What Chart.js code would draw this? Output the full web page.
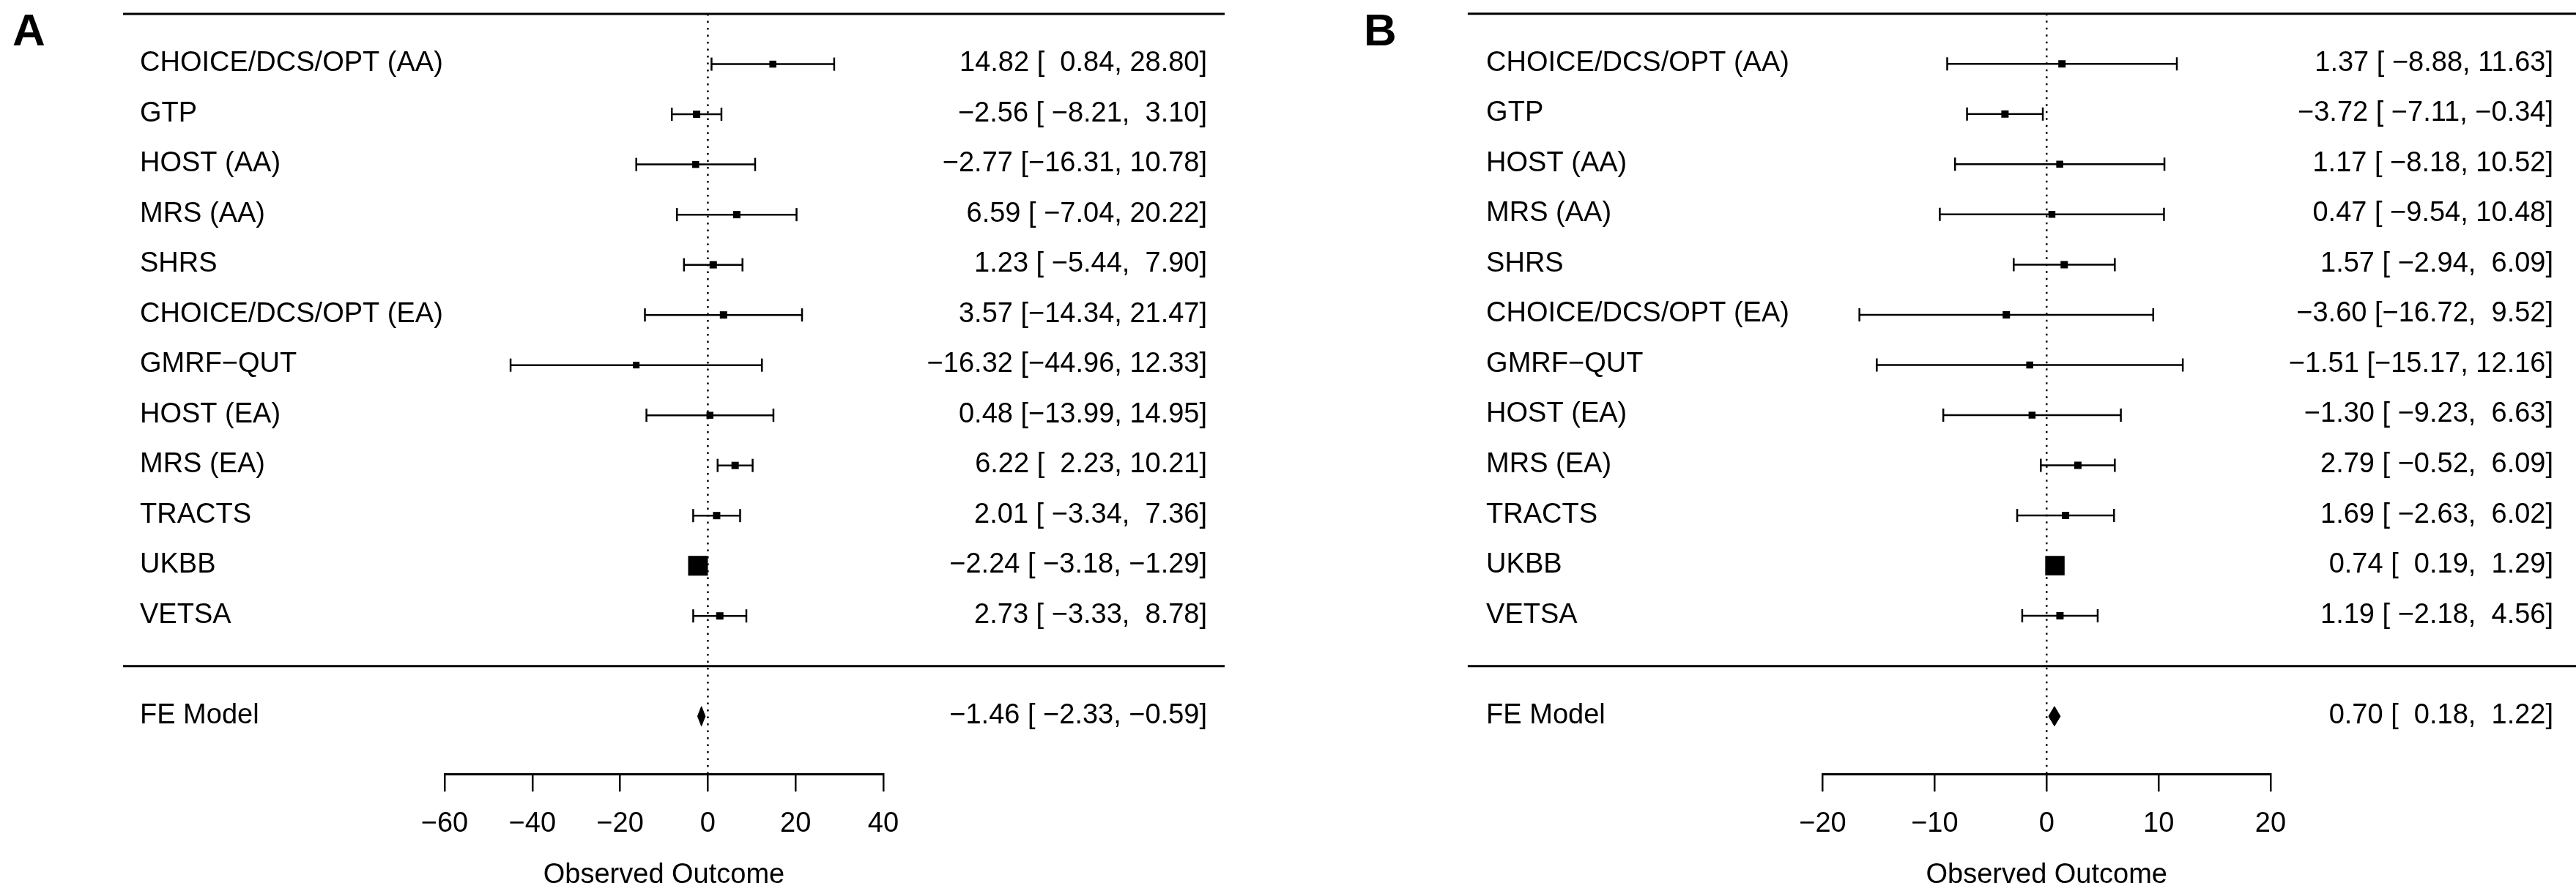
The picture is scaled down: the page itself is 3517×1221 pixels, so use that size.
<!DOCTYPE html>
<html>
<head>
<meta charset="utf-8">
<title>Forest plots</title>
<script src="https://cdn.jsdelivr.net/npm/chart.js@4.4.1/dist/chart.umd.min.js"></script>
<style>
  body { margin: 0; background: #fff; }
  #wrap { position: relative; width: 3517px; height: 1221px; }
  canvas { position: absolute; top: 0; }
</style>
</head>
<body>
<div id="wrap">
  <canvas id="chartA" width="1760" height="1221" style="left:0"></canvas>
  <canvas id="chartB" width="1757" height="1221" style="left:1760px"></canvas>
</div>
<script>
// study names (top to bottom)
const studies = ['CHOICE/DCS/OPT (AA)', 'GTP', 'HOST (AA)', 'MRS (AA)', 'SHRS',
  'CHOICE/DCS/OPT (EA)', 'GMRF\u2212QUT', 'HOST (EA)', 'MRS (EA)', 'TRACTS', 'UKBB', 'VETSA'];

// panel A
const estA  = [14.82, -2.56, -2.77, 6.59, 1.23, 3.57, -16.32, 0.48, 6.22, 2.01, -2.24, 2.73];
const lowA  = [0.84, -8.21, -16.31, -7.04, -5.44, -14.34, -44.96, -13.99, 2.23, -3.34, -3.18, -3.33];
const highA = [28.80, 3.10, 10.78, 20.22, 7.90, 21.47, 12.33, 14.95, 10.21, 7.36, -1.29, 8.78];
const boxA  = [9.5, 10, 9.5, 10, 10, 10, 9, 9.5, 10, 10, 27, 10];   // square side (weights)
const feA   = [-1.46, -2.33, -0.59];
const ticksA = [-60, -40, -20, 0, 20, 40];

// panel B
const estB  = [1.37, -3.72, 1.17, 0.47, 1.57, -3.60, -1.51, -1.30, 2.79, 1.69, 0.74, 1.19];
const lowB  = [-8.88, -7.11, -8.18, -9.54, -2.94, -16.72, -15.17, -9.23, -0.52, -2.63, 0.19, -2.18];
const highB = [11.63, -0.34, 10.52, 10.48, 6.09, 9.52, 12.16, 6.63, 6.09, 6.02, 1.29, 4.56];
const boxB  = [10, 10, 9.5, 9.5, 10, 10, 9.5, 9.5, 10, 10, 26.5, 10];
const feB   = [0.70, 0.18, 1.22];
const ticksB = [-20, -10, 0, 10, 20];

const FONT = '"Liberation Sans", Arial, Helvetica, sans-serif';
Chart.defaults.font.family = FONT;
Chart.defaults.color = '#000';

const Y_TOP = 13, Y_MIN = -2.15, FE_ROW = -1;

function num(v) {
  return (v < 0 ? '\u2212' : '') + Math.abs(v).toFixed(2);
}
function pad(s, w) {
  return ' '.repeat(Math.max(0, w - s.length)) + s;
}
function annotations(est, low, high, fe) {
  const e = est.concat(fe[0]).map(num), l = low.concat(fe[1]).map(num), h = high.concat(fe[2]).map(num);
  const we = Math.max(...e.map(s => s.length)), wl = Math.max(...l.map(s => s.length)), wh = Math.max(...h.map(s => s.length));
  return e.map((s, i) => pad(s, we) + ' [' + pad(l[i], wl) + ', ' + pad(h[i], wh) + ']');
}

// study names, annotations and panel letter
const forestText = {
  id: 'forestText',
  afterDraw(chart) {
    const o = chart.options.plugins.forestText;
    const { ctx, scales: { x, y } } = chart;
    ctx.save();
    ctx.fillStyle = '#000';
    ctx.textBaseline = 'alphabetic';
    ctx.font = '38px ' + FONT;
    const labels = o.labels.concat('FE Model');
    labels.forEach((lab, i) => {
      const py = y.getPixelForValue(o.rows[i]) + 9.5;
      ctx.textAlign = 'left';
      ctx.fillText(lab, x.getPixelForValue(o.labelX), py);
      ctx.textAlign = 'right';
      ctx.fillText(o.annot[i], x.getPixelForValue(o.annotX), py);
    });
    ctx.font = 'bold 62px ' + FONT;
    ctx.textAlign = 'left';
    ctx.fillText(o.letter, o.letterX, 62);
    ctx.restore();
  }
};

function makeForest(id, est, low, high, box, fe, ticks, lay) {
  const rows = studies.map((s, i) => studies.length - i);
  const black = '#000';
  const datasets = [];

  datasets.push({
    label: 'estimates',
    data: est.map((v, i) => ({ x: v, y: rows[i] })),
    pointStyle: 'rect',
    pointRadius: box.map(s => s / Math.SQRT2),
    pointBackgroundColor: black,
    pointBorderWidth: 0,
    order: 0
  });
  datasets.push({
    label: 'caps',
    data: low.map((v, i) => ({ x: v, y: rows[i] })).concat(high.map((v, i) => ({ x: v, y: rows[i] }))),
    pointStyle: 'line',
    rotation: 90,
    pointRadius: 9,
    pointBorderColor: black,
    pointBorderWidth: 2.5,
    order: 1
  });
  est.forEach((v, i) => {
    datasets.push({
      label: 'ci' + i,
      data: [{ x: low[i], y: rows[i] }, { x: high[i], y: rows[i] }],
      showLine: true,
      borderColor: black,
      borderWidth: 2.5,
      pointRadius: 0,
      order: 2
    });
  });
  const h = 0.195;
  datasets.push({
    label: 'summary',
    data: [{ x: fe[1], y: FE_ROW }, { x: fe[0], y: FE_ROW + h }, { x: fe[2], y: FE_ROW },
           { x: fe[0], y: FE_ROW - h }, { x: fe[1], y: FE_ROW }],
    showLine: true,
    fill: 'shape',
    backgroundColor: black,
    borderColor: black,
    borderWidth: 1,
    pointRadius: 0,
    order: 0
  });
  datasets.push({
    label: 'zero',
    data: [{ x: 0, y: Y_TOP }, { x: 0, y: Y_MIN }],
    showLine: true,
    borderColor: black,
    borderWidth: 2.5,
    borderDash: [2.5, 7],
    pointRadius: 0,
    order: 3
  });
  [Y_TOP, 0].forEach(r => {
    datasets.push({
      label: 'rule' + r,
      data: [{ x: lay.lineFrom, y: r }, { x: lay.lineTo, y: r }],
      showLine: true,
      borderColor: black,
      borderWidth: 3,
      pointRadius: 0,
      clip: false,
      order: 3
    });
  });

  return new Chart(document.getElementById(id), {
    type: 'scatter',
    data: { datasets },
    options: {
      responsive: false,
      animation: false,
      events: [],
      layout: { padding: { left: lay.padLeft, right: lay.padRight, top: 13, bottom: 0 } },
      plugins: {
        legend: { display: false },
        tooltip: { enabled: false },
        forestText: {
          labels: studies,
          rows: rows.concat(FE_ROW),
          annot: annotations(est, low, high, fe),
          labelX: lay.labelX,
          annotX: lay.annotX,
          letter: lay.letter,
          letterX: lay.letterX
        }
      },
      scales: {
        x: {
          type: 'linear',
          min: ticks[0],
          max: ticks[ticks.length - 1],
          afterBuildTicks: s => { s.ticks = ticks.map(v => ({ value: v })); },
          afterFit: s => { s.height = 164; },
          ticks: {
            font: { size: 38 },
            color: black,
            padding: 22,
            maxRotation: 0,
            autoSkip: false,
            callback: v => v < 0 ? '\u2212' + Math.abs(v) : String(v)
          },
          grid: { display: true, drawOnChartArea: false, drawTicks: true, tickLength: 24, lineWidth: 2.5, color: black },
          border: { display: true, color: black, width: 3 },
          title: { display: true, text: 'Observed Outcome', font: { size: 38 }, color: black, padding: { top: 0, bottom: 3 } }
        },
        y: { type: 'linear', min: Y_MIN, max: Y_TOP, display: false }
      }
    },
    plugins: [forestText]
  });
}

makeForest('chartA', estA, lowA, highA, boxA, feA, ticksA,
  { padLeft: 607, padRight: 554, labelX: -129.45, annotX: 113.8, lineFrom: -133.3, lineTo: 117.8, letter: 'A', letterX: 17 });
makeForest('chartB', estB, lowB, highB, boxB, feB, ticksB,
  { padLeft: 728.5, padRight: 417, labelX: -50.05, annotX: 45.25, lineFrom: -51.7, lineTo: 47.3, letter: 'B', letterX: 102 });
</script>
</body>
</html>
